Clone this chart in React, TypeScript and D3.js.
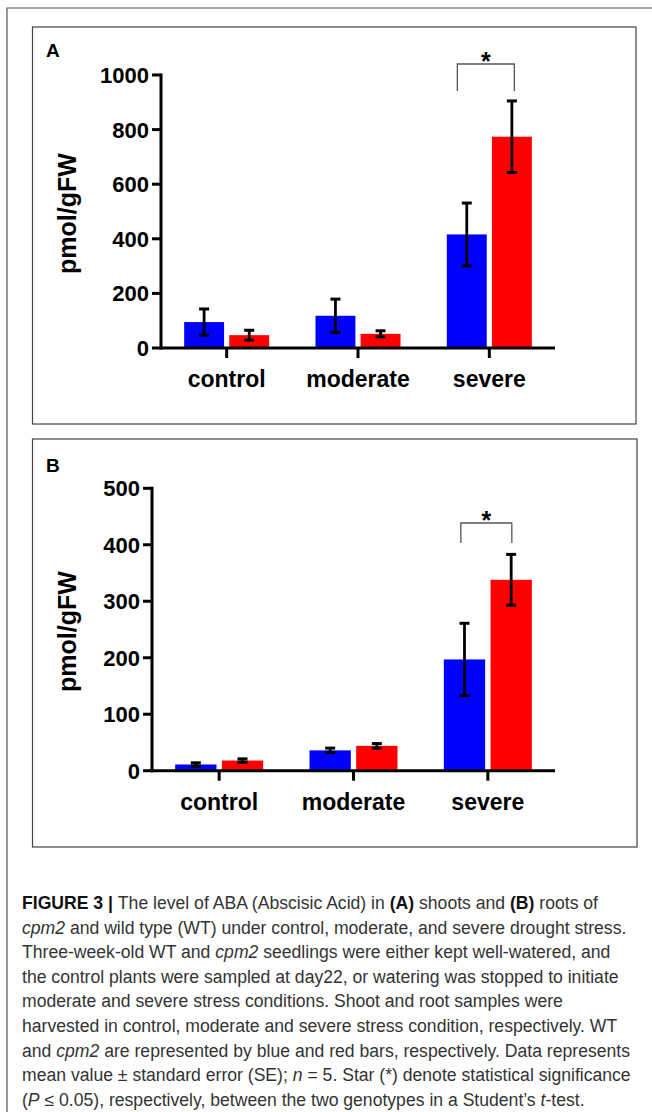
import React from "react";
import * as d3 from "d3";

const categories = ["control", "moderate", "severe"];
const series = ["WT", "cpm2"];
const colors = ["#0000FF", "#FF0000"];

// Panel A: shoots
const shootWT = [95, 118, 416];
const shootWTse = [48, 61, 115];
const shootCpm2 = [47, 52, 774];
const shootCpm2se = [18, 11, 131];
const ticksA = [0, 200, 400, 600, 800, 1000];

// Panel B: roots
const rootWT = [11, 36, 197];
const rootWTse = [3, 4, 64];
const rootCpm2 = [18, 44, 338];
const rootCpm2se = [3, 4, 45];
const ticksB = [0, 100, 200, 300, 400, 500];

const FONT = "'Liberation Sans', Arial, Helvetica, sans-serif";

type PanelProps = {
  label: string;
  box: [number, number, number, number];
  xRange: [number, number];
  yRange: [number, number];
  yMax: number;
  ticks: number[];
  values: number[][];
  errors: number[][];
  groupWidth: number;
  bracketTop: number;
  bracketDrop: number;
  bracketSpan: [number, number];
  labelY: number;
};

function Panel(p: PanelProps) {
  const x = d3.scaleBand<string>().domain(categories).range(p.xRange).padding(0);
  const y = d3.scaleLinear().domain([0, p.yMax]).range(p.yRange);
  const inner = d3
    .scaleBand<string>()
    .domain(series)
    .range([0, p.groupWidth])
    .paddingInner(0.115)
    .paddingOuter(0);
  const axisX = p.xRange[0];
  const baseY = y(0);
  const center = (c: string) => (x(c) as number) + x.bandwidth() / 2;
  const barX = (c: string, s: string) => center(c) - p.groupWidth / 2 + (inner(s) as number);
  const bw = inner.bandwidth();
  const [bx, by, bw2, bh] = p.box;

  // significance bracket on severe
  const sc = center("severe");
  const bl = sc + p.bracketSpan[0];
  const br = sc + p.bracketSpan[1];

  return (
    <g>
      <rect x={bx} y={by} width={bw2} height={bh} fill="none" stroke="#444" strokeWidth={1.2} />
      <text x={46} y={p.labelY} fontFamily={FONT} fontWeight="bold" fontSize={19} fill="#000">
        {p.label}
      </text>
      {/* bars */}
      {categories.map((c, ci) =>
        series.map((s, si) => {
          const v = p.values[si][ci];
          return (
            <rect
              key={c + s}
              x={barX(c, s)}
              y={y(v)}
              width={bw}
              height={baseY - y(v)}
              fill={colors[si]}
            />
          );
        })
      )}
      {/* error bars */}
      {categories.map((c, ci) =>
        series.map((s, si) => {
          const v = p.values[si][ci];
          const e = p.errors[si][ci];
          const cx = barX(c, s) + bw / 2;
          return (
            <g key={"e" + c + s} stroke="#000">
              <line x1={cx} x2={cx} y1={y(v + e)} y2={y(v - e)} strokeWidth={2.8} />
              <line x1={cx - 5} x2={cx + 5} y1={y(v + e)} y2={y(v + e)} strokeWidth={3} />
              <line x1={cx - 5} x2={cx + 5} y1={y(v - e)} y2={y(v - e)} strokeWidth={3} />
            </g>
          );
        })
      )}
      {/* y axis */}
      <line x1={axisX} x2={axisX} y1={y(p.yMax) - 1.5} y2={baseY + 1.5} stroke="#000" strokeWidth={3} />
      {p.ticks.map((t) => (
        <g key={"t" + t}>
          <line x1={axisX - 9} x2={axisX} y1={y(t)} y2={y(t)} stroke="#000" strokeWidth={3} />
          <text
            x={axisX - 12}
            y={y(t) + 7.9}
            textAnchor="end"
            fontFamily={FONT}
            fontWeight="bold"
            fontSize={22}
            fill="#000"
          >
            {t}
          </text>
        </g>
      ))}
      {/* x axis */}
      <line x1={axisX - 1.5} x2={p.xRange[1]} y1={baseY} y2={baseY} stroke="#000" strokeWidth={3} />
      {categories.map((c) => (
        <g key={"c" + c}>
          <line x1={center(c)} x2={center(c)} y1={baseY} y2={baseY + 10} stroke="#000" strokeWidth={3} />
          <text
            x={center(c)}
            y={baseY + 39}
            textAnchor="middle"
            fontFamily={FONT}
            fontWeight="bold"
            fontSize={23}
            fill="#000"
          >
            {c}
          </text>
        </g>
      ))}
      {/* y label */}
      <text
        transform={`translate(${76},${(y(0) + y(p.yMax)) / 2 + 2}) rotate(-90)`}
        textAnchor="middle"
        fontFamily={FONT}
        fontWeight="bold"
        fontSize={25}
        fill="#000"
      >
        pmol/gFW
      </text>
      {/* bracket */}
      <path
        d={`M${bl},${p.bracketTop + p.bracketDrop}V${p.bracketTop}H${br}V${p.bracketTop + p.bracketDrop}`}
        fill="none"
        stroke="#555"
        strokeWidth={1.3}
      />
      <text
        x={(bl + br) / 2}
        y={p.bracketTop + 6}
        textAnchor="middle"
        fontFamily={FONT}
        fontWeight="bold"
        fontSize={25}
        fill="#000"
      >
        *
      </text>
    </g>
  );
}

type Seg = { t: string; b?: boolean; i?: boolean };
const caption: Seg[][] = [
  [
    { t: "FIGURE 3 | ", b: true },
    { t: "The level of ABA (Abscisic Acid) in " },
    { t: "(A)", b: true },
    { t: " shoots and " },
    { t: "(B)", b: true },
    { t: " roots of" },
  ],
  [{ t: "cpm2", i: true }, { t: " and wild type (WT) under control, moderate, and severe drought stress." }],
  [
    { t: "Three-week-old WT and " },
    { t: "cpm2", i: true },
    { t: " seedlings were either kept well-watered, and" },
  ],
  [{ t: "the control plants were sampled at day22, or watering was stopped to initiate" }],
  [{ t: "moderate and severe stress conditions. Shoot and root samples were" }],
  [{ t: "harvested in control, moderate and severe stress condition, respectively. WT" }],
  [
    { t: "and " },
    { t: "cpm2", i: true },
    { t: " are represented by blue and red bars, respectively. Data represents" },
  ],
  [
    { t: "mean value \u00B1 standard error (SE); " },
    { t: "n", i: true },
    { t: " = 5. Star (*) denote statistical significance" },
  ],
  [
    { t: "(" },
    { t: "P", i: true },
    { t: " \u2264 0.05), respectively, between the two genotypes in a Student\u2019s " },
    { t: "t", i: true },
    { t: "-test." },
  ],
];

export default function App() {
  return (
    <svg
      width={652}
      height={1112}
      style={{ position: "absolute", left: 0, top: 0, background: "#fff" }}
    >
      <rect x={0} y={0} width={652} height={1112} fill="#fff" />
      <path d="M7,1112V8H652" fill="none" stroke="#555" strokeWidth={1.2} />
      <Panel
        label="A"
        box={[32.5, 27, 603.5, 397]}
        xRange={[161, 555]}
        yRange={[348, 75]}
        yMax={1000}
        ticks={ticksA}
        values={[shootWT, shootCpm2]}
        errors={[shootWTse, shootCpm2se]}
        groupWidth={85}
        bracketTop={64}
        bracketDrop={27}
        bracketSpan={[-32, 25]}
        labelY={57}
      />
      <Panel
        label="B"
        box={[32.5, 439, 604.5, 408]}
        xRange={[152, 555]}
        yRange={[770.7, 488.3]}
        yMax={500}
        ticks={ticksB}
        values={[rootWT, rootCpm2]}
        errors={[rootWTse, rootCpm2se]}
        groupWidth={88}
        bracketTop={523}
        bracketDrop={20}
        bracketSpan={[-27, 24]}
        labelY={472}
      />
      {caption.map((line, li) => (
        <text key={li} x={22} y={909 + li * 24.6} fontFamily={FONT} fontSize={17.6} fill="#333">
          {line.map((s, si) => (
            <tspan
              key={si}
              fontWeight={s.b ? "bold" : "normal"}
              fontStyle={s.i ? "italic" : "normal"}
              fill={s.b ? "#111" : "#333"}
            >
              {s.t}
            </tspan>
          ))}
        </text>
      ))}
    </svg>
  );
}
